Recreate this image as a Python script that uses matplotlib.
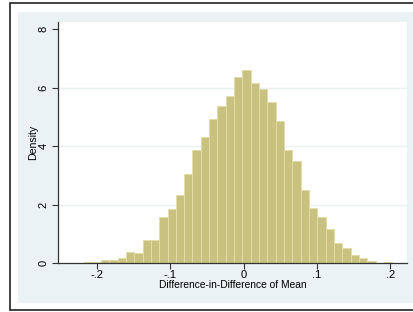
import numpy as np
from matplotlib import pyplot as plt
from matplotlib.patches import Rectangle

# histogram of the DiD estimate, 40 bins (Stata style)
bin_start = -0.2515
bin_width = 0.011355
density = [0.01, 0.0, 0.02, 0.03, 0.06, 0.12, 0.12, 0.17, 0.40, 0.35,
           0.78, 0.79, 1.58, 1.86, 2.32, 3.05, 3.87, 4.30, 4.93, 5.37,
           5.72, 6.35, 6.60, 6.15, 5.95, 5.52, 4.87, 3.87, 3.50, 2.52,
           1.89, 1.57, 1.18, 0.71, 0.52, 0.27, 0.18, 0.09, 0.01, 0.05]
xticks = [-0.2, -0.1, 0, 0.1, 0.2]
xticklabels = ['-.2', '-.1', '0', '.1', '.2']
yticks = [0, 2, 4, 6, 8]

plt.rcParams['font.family'] = ['Liberation Sans', 'DejaVu Sans']

W, H = 414, 312
fig = plt.figure(figsize=(W / 100, H / 100), dpi=100)
fig.patch.set_facecolor('white')

# outer frame and graph region
fig.patches.append(Rectangle((10 / W, 2 / H), 420 / W, 307 / H, transform=fig.transFigure,
                             facecolor='white', edgecolor='#222222', lw=1.2, zorder=-10))
fig.patches.append(Rectangle((18 / W, 9 / H), 420 / W, 291 / H, transform=fig.transFigure,
                             facecolor='#EAF2F3', edgecolor='none', zorder=-9))

ax = fig.add_axes([58 / W, 1 - 263.3 / H, (407 - 58) / W, (263.3 - 22) / H])
ax.set_zorder(1)
ax.set_facecolor('white')

edges = bin_start + bin_width * np.arange(len(density) + 1)
ax.hist(edges[:-1], bins=edges, weights=density, color='#C9C17F',
        edgecolor='#E3DCA8', linewidth=0.7, zorder=2)

ax.set_xlim(-0.2533, 0.2228)
ax.set_ylim(0, 8.24)
for g in [2, 4, 6]:
    ax.axhline(g, color='#EAF2F3', lw=1.0, zorder=1)

ax.set_xticks(xticks)
ax.set_xticklabels(xticklabels)
ax.set_yticks(yticks)
ax.set_yticklabels([str(v) for v in yticks], rotation=90, va='center')
ax.tick_params(axis='both', labelsize=8, color='#333333', length=4, width=0.8, pad=3)
ax.tick_params(axis='x', pad=1)

for s in ['top', 'right']:
    ax.spines[s].set_visible(False)
for s in ['left', 'bottom']:
    ax.spines[s].set_color('#333333')
    ax.spines[s].set_linewidth(0.9)

ax.set_xlabel('Difference-in-Difference of Mean', fontsize=7.4, labelpad=0)
ax.set_ylabel('Density', fontsize=7.6, labelpad=0)

fig.savefig('out.png', dpi=100)
